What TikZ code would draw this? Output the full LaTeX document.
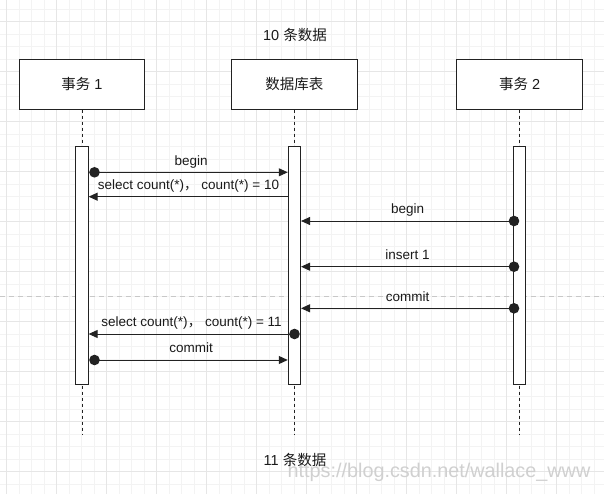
\documentclass[tikz,border=0pt]{standalone}
\usepackage{fontspec}
\setmainfont{Liberation Sans}
\newfontfamily\cjk{Noto Sans CJK SC}
\usetikzlibrary{arrows.meta}
\definecolor{ln}{HTML}{222222}
\definecolor{txt}{HTML}{1A1A1A}
\definecolor{gminor}{HTML}{F3F3F3}
\definecolor{gmajor}{HTML}{E6E6E6}
\definecolor{sep}{HTML}{C8C8C8}
\definecolor{wm}{HTML}{D0D0D0}
\begin{document}
\begin{tikzpicture}[x=1pt,y=-1pt,
  box/.style={draw=ln, line width=1pt, fill=white, minimum width=125.7pt, minimum height=49.7pt, inner sep=0pt, text=txt, font=\fontsize{14.5}{17}\selectfont},
  bar/.style={draw=ln, line width=1pt, fill=white, minimum width=12.3pt, minimum height=237pt, inner sep=0pt},
  life/.style={draw=ln, line width=1pt, dash pattern=on 3pt off 3pt},
  msg/.style={draw=ln, line width=1pt, -{Triangle[length=9pt,width=8pt]}},
  lbl/.style={midway, yshift=10.5pt, inner sep=0pt, text=txt, text height=9pt, text depth=2.5pt, font=\fontsize{13.5}{16}\selectfont},
  ttl/.style={inner sep=0pt, text=txt, font=\fontsize{14.5}{17}\selectfont}]
\useasboundingbox (0,0) rectangle (604,494);
\fill[white] (0,0) rectangle (604,494);
% grid
\foreach \i in {0,...,47} \draw[gminor, line width=0.8pt] ({6.7+12.5*\i},0) -- ({6.7+12.5*\i},494);
\foreach \j in {0,...,38} \draw[gminor, line width=0.8pt] (0,{9.2+12.5*\j}) -- (604,{9.2+12.5*\j});
\foreach \i in {0,...,11} \draw[gmajor, line width=1pt] ({6.7+50*\i},0) -- ({6.7+50*\i},494);
\foreach \j in {0,...,9} \draw[gmajor, line width=1pt] (0,{21.7+50*\j}) -- (604,{21.7+50*\j});
% separator
\coordinate (sepL) at (0,296.7);
\coordinate (sepR) at (604,296.7);
\draw[sep, line width=0.9pt, dash pattern=on 5pt off 4pt] (sepL) -- (sepR);
% watermark
\node[text=wm, inner sep=0pt, font=\fontsize{19.8}{22}\selectfont] (wmark) at (439,472) {https://blog.csdn.net/wallace\_www};
% titles
\node[ttl] (top) at (295,35) {10 {\cjk 条数据}};
\node[ttl] (bot) at (295,460) {11 {\cjk 条数据}};
% participants
\node[box] (t1) at (82,84.2) {{\cjk 事务} 1};
\node[box] (db) at (294.4,84.2) {{\cjk 数据库表}};
\node[box] (t2) at (519.7,84.2) {{\cjk 事务} 2};
% lifelines
\coordinate (e1) at (82,435);
\coordinate (e2) at (294.4,435);
\coordinate (e3) at (519.7,435);
\draw[life] (t1.south) -- (e1);
\draw[life] (db.south) -- (e2);
\draw[life] (t2.south) -- (e3);
% activation bars
\node[bar] (b1) at (82,265.5) {};
\node[bar] (b2) at (294.4,265.5) {};
\node[bar] (b3) at (519.7,265.5) {};
% messages
\coordinate (d1) at (94.5,172.3);
\draw[msg] (d1) -- (d1 -| b2.west) node[lbl] {begin};
\fill[ln] (d1) circle (5.3);
\coordinate (s2) at (288.3,196.7);
\draw[msg] (s2) -- (s2 -| b1.east) node[lbl] {select count(*){\cjk ，} count(*) = 10};
\coordinate (d3) at (514,221);
\draw[msg] (d3) -- (d3 -| b2.east) node[lbl] {begin};
\fill[ln] (d3) circle (5.3);
\coordinate (d4) at (514,266.7);
\draw[msg] (d4) -- (d4 -| b2.east) node[lbl] {insert 1};
\fill[ln] (d4) circle (5.3);
\coordinate (d5) at (514,308.3);
\draw[msg] (d5) -- (d5 -| b2.east) node[lbl] {commit};
\fill[ln] (d5) circle (5.3);
\coordinate (d6) at (294.5,334);
\draw[msg] (d6) -- (d6 -| b1.east) node[lbl] {select count(*){\cjk ，} count(*) = 11};
\fill[ln] (d6) circle (5.3);
\coordinate (d7) at (94.5,360);
\draw[msg] (d7) -- (d7 -| b2.west) node[lbl] {commit};
\fill[ln] (d7) circle (5.3);
\end{tikzpicture}
\end{document}
